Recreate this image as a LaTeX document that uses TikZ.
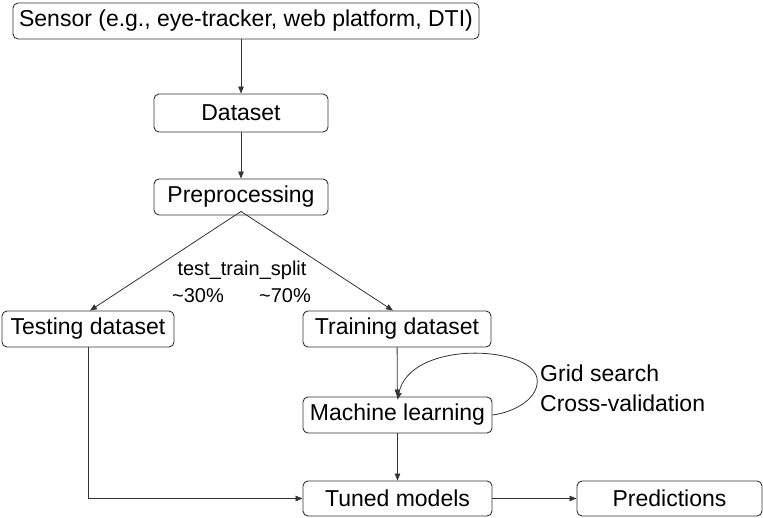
\documentclass[tikz,border=0pt]{standalone}
\usepackage{fontspec}
\setmainfont{Liberation Sans}
\usetikzlibrary{arrows.meta}
\begin{document}
\begin{tikzpicture}[x=1pt,y=-1pt,
  box/.style={draw=black!80, line width=0.9pt, rounded corners=5pt, inner sep=0pt,
    font=\fontsize{23}{27}\selectfont, text=black},
  conn/.style={draw=black!80, line width=0.8pt, -{Triangle[length=7pt,width=5.5pt]}},
  lbl/.style={font=\fontsize{20}{24}\selectfont, inner sep=0pt},
  side/.style={font=\fontsize{23}{27}\selectfont, inner sep=0pt, anchor=west}]
\useasboundingbox (0,0) rectangle (763,517);
\node[box, minimum width=466pt, minimum height=36pt] (sensor) at (246,21) {Sensor (e.g., eye-tracker, web platform, DTI)};
\node[box, minimum width=174pt, minimum height=38pt] (dataset) at (241,113) {Dataset};
\node[box, minimum width=174pt, minimum height=36pt] (prep) at (241,197) {Preprocessing};
\node[box, minimum width=172pt, minimum height=36pt] (test) at (88,329) {Testing dataset};
\node[box, minimum width=188pt, minimum height=36pt] (train) at (397,329) {Training dataset};
\node[box, minimum width=189pt, minimum height=36pt] (ml) at (397.5,415) {Machine learning};
\node[box, minimum width=189pt, minimum height=35pt] (tuned) at (397.5,498.5) {Tuned models};
\node[box, minimum width=185pt, minimum height=35pt] (pred) at (669.5,498.5) {Predictions};

\node[lbl] (tts) at (242,270) {test\_train\_split};
\node[lbl] (p30) at (198,296) {\textasciitilde 30\%};
\node[lbl] (p70) at (285,296) {\textasciitilde 70\%};
\node[side] (gs) at (540,373) {Grid search};
\node[side] (cv) at (540,403) {Cross-validation};

\coordinate (split) at ([yshift=4pt]prep.south);
\coordinate (loopa) at (537,378);

\draw[conn] (sensor.south -| dataset.north) -- (dataset.north);
\draw[conn] (dataset) -- (prep);
\draw[conn] (split) -- ([xshift=2pt]test.north);
\draw[conn] (split) -- ([xshift=-4pt]train.north);
\draw[conn] (train) -- (ml);
\draw[conn] (ml.east) .. controls (515,412) and (540,398) .. (loopa)
  .. controls (530,345) and (410,340) .. ([yshift=-3pt]ml.north);
\draw[conn] (ml) -- (tuned);
\draw[conn] (test.south) |- (tuned.west);
\draw[conn] (tuned) -- (pred);
\end{tikzpicture}
\end{document}
